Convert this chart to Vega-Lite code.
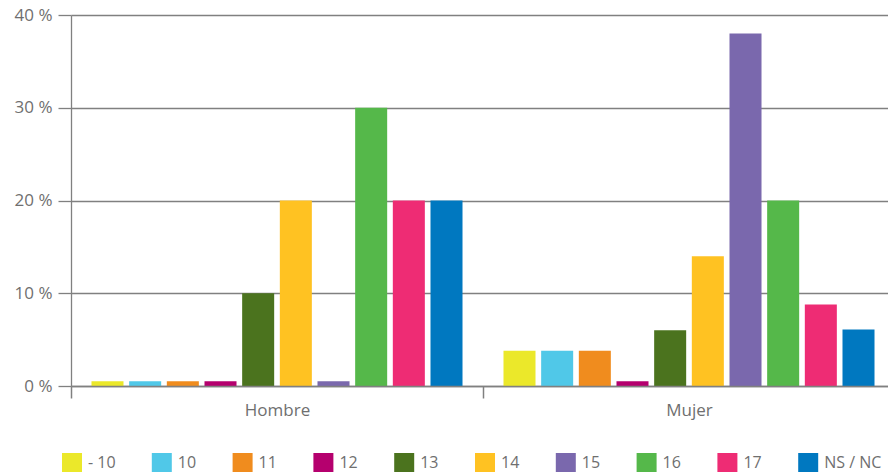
{
  "$schema": "https://vega.github.io/schema/vega-lite/v6.json",
  "width": 817,
  "height": 371,
  "autosize": {"type": "none"},
  "padding": {"left": 71, "top": 15, "right": 0, "bottom": 86},
  "background": "white",
  "config": {
    "view": {"stroke": null},
    "font": "Open Sans",
    "axis": {"labelFont": "Open Sans", "labelFontSize": 17, "labelColor": "#6f6f6f", "domainColor": "#808080", "tickColor": "#808080", "gridColor": "#808080", "title": null}
  },
  "data": {
    "values": [
      {"sexo": "Hombre", "edad": "- 10", "pct": 0.5},
      {"sexo": "Hombre", "edad": "10", "pct": 0.5},
      {"sexo": "Hombre", "edad": "11", "pct": 0.5},
      {"sexo": "Hombre", "edad": "12", "pct": 0.5},
      {"sexo": "Hombre", "edad": "13", "pct": 10},
      {"sexo": "Hombre", "edad": "14", "pct": 20},
      {"sexo": "Hombre", "edad": "15", "pct": 0.5},
      {"sexo": "Hombre", "edad": "16", "pct": 30},
      {"sexo": "Hombre", "edad": "17", "pct": 20},
      {"sexo": "Hombre", "edad": "NS / NC", "pct": 20},
      {"sexo": "Mujer", "edad": "- 10", "pct": 3.8},
      {"sexo": "Mujer", "edad": "10", "pct": 3.8},
      {"sexo": "Mujer", "edad": "11", "pct": 3.8},
      {"sexo": "Mujer", "edad": "12", "pct": 0.5},
      {"sexo": "Mujer", "edad": "13", "pct": 6},
      {"sexo": "Mujer", "edad": "14", "pct": 14},
      {"sexo": "Mujer", "edad": "15", "pct": 38},
      {"sexo": "Mujer", "edad": "16", "pct": 20},
      {"sexo": "Mujer", "edad": "17", "pct": 8.8},
      {"sexo": "Mujer", "edad": "NS / NC", "pct": 6.1}
    ]
  },
  "mark": {"type": "bar"},
  "encoding": {
    "x": {
      "field": "sexo", "type": "nominal", "sort": null,
      "scale": {"type": "band", "paddingInner": 0, "paddingOuter": 0, "range": [0, 824]},
      "axis": {"labelAngle": 0, "tickBand": "extent", "tickSize": 12, "labelPadding": 4, "domainWidth": 1.5, "tickWidth": 1.5, "zindex": 1}
    },
    "xOffset": {
      "field": "edad", "type": "nominal", "sort": null,
      "scale": {"paddingInner": 0.15, "paddingOuter": 0.544}
    },
    "y": {
      "field": "pct", "type": "quantitative",
      "scale": {"domain": [0, 40], "nice": false},
      "axis": {"values": [0, 10, 20, 30, 40], "labelExpr": "datum.value + ' %'", "tickSize": 13, "labelPadding": 6, "grid": true, "gridWidth": 1.3, "domainWidth": 1.3, "tickWidth": 1.3}
    },
    "color": {
      "field": "edad", "type": "nominal", "sort": null,
      "scale": {
        "domain": ["- 10", "10", "11", "12", "13", "14", "15", "16", "17", "NS / NC"],
        "range": ["#ebe82a", "#50c8e8", "#f08c1e", "#b5006e", "#4b731e", "#ffc222", "#7a68ad", "#55b84a", "#ee2c74", "#0078c0"]
      },
      "legend": {
        "title": null,
        "orient": "none",
        "legendX": -9,
        "legendY": 438,
        "direction": "horizontal",
        "columns": 10,
        "gridAlign": "none",
        "columnPadding": 35.8,
        "symbolType": "square",
        "symbolSize": 400,
        "symbolStrokeWidth": 0,
        "symbolOpacity": 1,
        "labelOffset": 6,
        "labelFont": "Open Sans",
        "labelFontSize": 16,
        "labelColor": "#6f6f6f"
      }
    }
  }
}
